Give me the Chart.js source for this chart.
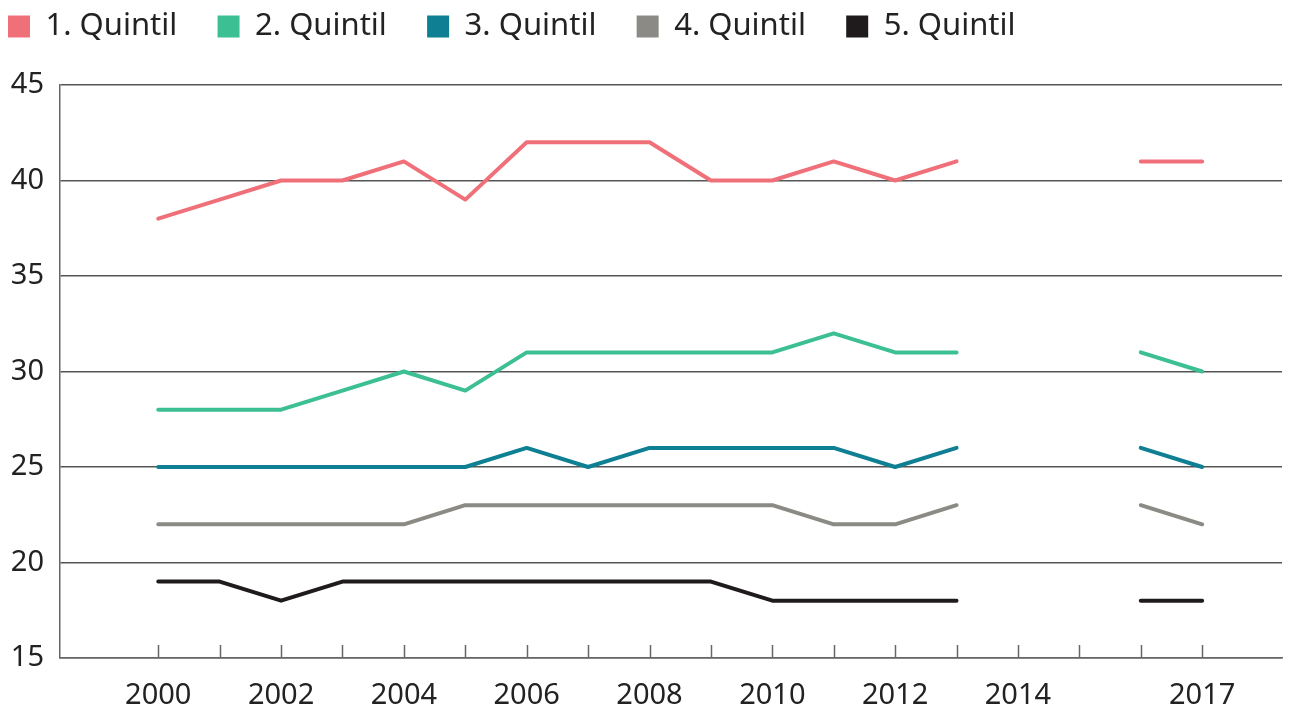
<!DOCTYPE html>
<html lang="de">
<head>
    <meta charset="UTF-8">
    <title>Quintile</title>
    <script src="https://cdn.jsdelivr.net/npm/chart.js"></script>
    <style>
        html, body { margin: 0; padding: 0; background: #fff; }
        #wrap { width: 1295px; height: 710px; position: relative; }
    </style>
</head>
<body>
    <div id="wrap"><canvas id="chart"></canvas></div>
    <script>
        // Jahre (2014 und 2015 ohne Werte)
        const years = [2000, 2001, 2002, 2003, 2004, 2005, 2006, 2007, 2008, 2009, 2010, 2011, 2012, 2013, 2014, 2015, 2016, 2017];
        const labeledYears = [2000, 2002, 2004, 2006, 2008, 2010, 2012, 2014, 2017];
        const q1 = [38, 39, 40, 40, 41, 39, 42, 42, 42, 40, 40, 41, 40, 41, null, null, 41, 41];
        const q2 = [28, 28, 28, 29, 30, 29, 31, 31, 31, 31, 31, 32, 31, 31, null, null, 31, 30];
        const q3 = [25, 25, 25, 25, 25, 25, 26, 25, 26, 26, 26, 26, 25, 26, null, null, 26, 25];
        const q4 = [22, 22, 22, 22, 22, 23, 23, 23, 23, 23, 23, 22, 22, 23, null, null, 23, 22];
        const q5 = [19, 19, 18, 19, 19, 19, 19, 19, 19, 19, 18, 18, 18, 18, null, null, 18, 18];
        const yTicks = [15, 20, 25, 30, 35, 40, 45];

        const seriesNames = ['1. Quintil', '2. Quintil', '3. Quintil', '4. Quintil', '5. Quintil'];
        const seriesColors = ['#f0707a', '#3dbf94', '#0f7f93', '#8b8a84', '#1f1b1c'];
        const seriesData = [q1, q2, q3, q4, q5];

        const font = "'Noto Sans', sans-serif";

        // kurze Striche nach innen an der x-Achse
        const innerTicks = {
            id: 'innerTicks',
            afterDatasetsDraw(chart) {
                const { ctx, chartArea, scales } = chart;
                ctx.save();
                ctx.strokeStyle = '#666';
                ctx.lineWidth = 1.5;
                years.forEach(y => {
                    const x = Math.round(scales.x.getPixelForValue(y)) + 0.5;
                    ctx.beginPath();
                    ctx.moveTo(x, chartArea.bottom);
                    ctx.lineTo(x, chartArea.bottom - 13);
                    ctx.stroke();
                });
                ctx.restore();
            }
        };

        // Legende höher machen, damit die Zeichenfläche bei y=85 beginnt
        const legendHeight = {
            id: 'legendHeight',
            afterInit(chart) {
                const lg = chart.legend;
                const fit = lg.fit;
                lg.fit = function () {
                    fit.call(this);
                    this.height = 82;
                };
            }
        };

        new Chart(document.getElementById('chart'), {
            type: 'line',
            data: {
                datasets: seriesData.map((d, i) => ({
                    label: seriesNames[i],
                    data: years.map((yr, j) => ({ x: yr, y: d[j] })),
                    borderColor: seriesColors[i],
                    backgroundColor: seriesColors[i],
                    borderWidth: 4,
                    pointRadius: 0,
                    tension: 0,
                    spanGaps: false,
                    borderCapStyle: 'round',
                    borderJoinStyle: 'round'
                }))
            },
            options: {
                responsive: true,
                maintainAspectRatio: false,
                animation: false,
                layout: { padding: { left: 0, right: 13, top: 3, bottom: 0 } },
                plugins: {
                    tooltip: { enabled: false },
                    legend: {
                        position: 'top',
                        align: 'start',
                        labels: {
                            boxWidth: 22,
                            boxHeight: 22,
                            padding: 8,
                            color: '#222',
                            font: { family: font, size: 31 },
                            generateLabels(chart) {
                                return chart.data.datasets.map((ds, i) => ({
                                    text: ds.label + '\u00a0\u00a0\u00a0\u00a0',
                                    fillStyle: ds.borderColor,
                                    strokeStyle: ds.borderColor,
                                    lineWidth: 0,
                                    hidden: false,
                                    datasetIndex: i,
                                    fontColor: '#222'
                                }));
                            }
                        }
                    }
                },
                scales: {
                    x: {
                        type: 'linear',
                        min: 1998.4,
                        max: 2018.3,
                        afterBuildTicks(scale) {
                            scale.ticks = years.map(v => ({ value: v }));
                        },
                        afterFit(scale) { scale.height = 52; },
                        grid: { display: false },
                        border: { display: true, color: '#666', width: 1.5 },
                        ticks: {
                            autoSkip: false,
                            maxRotation: 0,
                            padding: 12,
                            color: '#222',
                            font: { family: font, size: 29 },
                            callback: v => labeledYears.includes(v) ? String(v) : ''
                        }
                    },
                    y: {
                        min: 15,
                        max: 45,
                        afterBuildTicks(scale) {
                            scale.ticks = yTicks.map(v => ({ value: v }));
                        },
                        afterFit(scale) { scale.width = 60; },
                        grid: { color: '#555', lineWidth: 1.5, drawTicks: false },
                        border: { display: true, color: '#666', width: 1.5 },
                        ticks: {
                            padding: 16,
                            color: '#222',
                            font: { family: font, size: 29 }
                        }
                    }
                }
            },
            plugins: [innerTicks, legendHeight]
        });
    </script>
</body>
</html>
